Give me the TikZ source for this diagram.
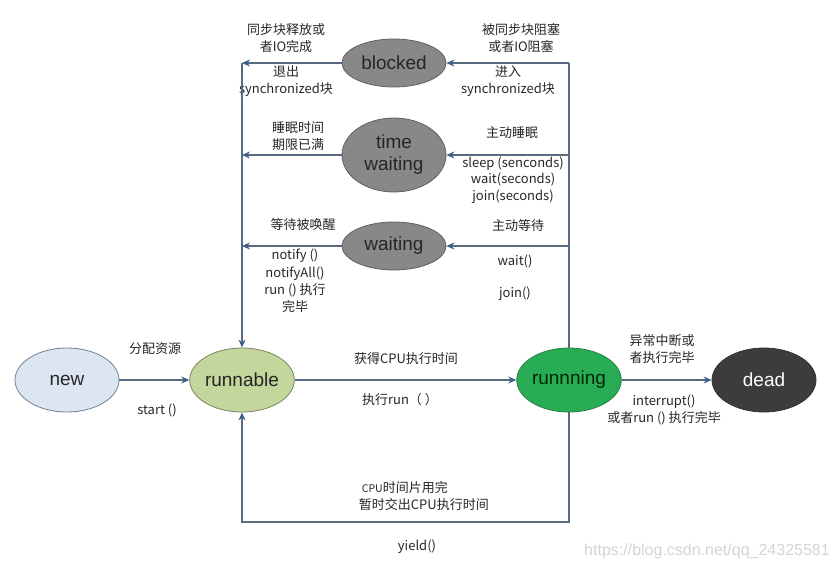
\documentclass[tikz,border=0pt]{standalone}
\usepackage{fontspec}
\setmainfont{Noto Sans CJK SC}
\newfontfamily\statefont{Liberation Sans}
\usetikzlibrary{shapes.geometric,arrows.meta}
\definecolor{linecol}{RGB}{88,106,128}
\definecolor{tipcol}{RGB}{62,96,134}
\definecolor{newfill}{RGB}{220,230,242}
\definecolor{newdraw}{RGB}{112,128,152}
\definecolor{runfill}{RGB}{195,214,155}
\definecolor{rundraw}{RGB}{120,136,96}
\definecolor{goodfill}{RGB}{40,172,84}
\definecolor{gooddraw}{RGB}{36,130,66}
\definecolor{waitfill}{RGB}{136,136,136}
\definecolor{waitdraw}{RGB}{96,96,96}
\definecolor{deadfill}{RGB}{60,60,60}
\definecolor{markcol}{RGB}{212,212,212}
\begin{document}
\begin{tikzpicture}[x=1pt,y=-1pt,>={Stealth[length=8pt,width=7pt,color=tipcol]},line width=1.1pt,
  main node/.style={ellipse,draw,line width=0.8pt,minimum width=104pt,minimum height=64pt,inner sep=0pt,text=black!85,font=\statefont\fontsize{19}{22}\selectfont},
  wait node/.style={main node,fill=waitfill,draw=waitdraw,align=center},
  text node/.style={align=center,text=black!85,font=\fontsize{13}{17}\selectfont},
  link/.style={draw=linecol}]
    \useasboundingbox (0,0) rectangle (834,570);

    \node[main node,fill=newfill,draw=newdraw] (1) at (67,380) {new};
    \node[main node,fill=runfill,draw=rundraw] (2) at (242,380) {runnable};
    \node[main node,fill=goodfill,draw=gooddraw,text=black!85!green] (3) at (569,380) {runnning};
    \node[main node,fill=deadfill,draw=black!80,text=white] (4) at (764,380) {dead};

    \node[wait node,minimum height=48pt] (5) at (394,63) {blocked};
    \node[wait node,minimum height=74pt] (6) at (394,155) {time\\waiting};
    \node[wait node,minimum height=48pt] (7) at (394,246) {waiting};

    \coordinate (8) at (242,63);
    \coordinate (9) at (242,155);
    \coordinate (10) at (242,246);
    \coordinate (11) at (569,63);
    \coordinate (12) at (569,155);
    \coordinate (13) at (569,246);
    \coordinate (14) at (242,522);

    \node[text node] (15) at (286,38) {同步块释放或\\者IO完成};
    \node[text node] (16) at (286,81) {退出\\synchronized块};
    \node[text node] (17) at (521,38) {被同步块阻塞\\或者IO阻塞};
    \node[text node] (18) at (508,81) {进入\\synchronized块};
    \node[text node] (19) at (298,136) {睡眠时间\\期限已满};
    \node[text node] (20) at (512,133) {主动睡眠};
    \node[text node,font=\fontsize{13}{16.5}\selectfont] (21) at (513,180) {sleep (senconds)\\wait(seconds)\\join(seconds)};
    \node[text node] (22) at (303,225) {等待被唤醒};
    \node[text node,font=\fontsize{13}{17.3}\selectfont] (23) at (295,281) {notify ()\\notifyAll()\\run () 执行\\完毕};
    \node[text node] (24) at (518,226) {主动等待};
    \node[text node] (25) at (515,261) {wait()};
    \node[text node] (26) at (515,294) {join()};
    \node[text node] (27) at (155,349) {分配资源};
    \node[text node] (28) at (157,410) {start ()};
    \node[text node] (29) at (406,359) {获得CPU执行时间};
    \node[text node] (30) at (400,400) {执行run（ ）};
    \node[text node] (31) at (662,349) {异常中断或\\者执行完毕};
    \node[text node] (32) at (664,410) {interrupt()\\或者run () 执行完毕};
    \node[text node,align=left,anchor=west] (33) at (355,496) {\hspace{3pt}{\fontsize{10.5}{17}\selectfont CPU}时间片用完\\暂时交出CPU执行时间};
    \node[text node] (34) at (417,547) {yield()};
    \node[text node,text=markcol,font=\statefont\fontsize{16}{18}\selectfont] (35) at (707,551) {https://blog.csdn.net/qq\_24325581};

    \path[link]
    (1) edge[->] (2)
    (2) edge[->] (3)
    (3) edge[->] (4)

    (5) edge[->] (8)
    (6) edge[->] (9)
    (7) edge[->] (10)
    (8) edge[->] (2)

    (11) edge[->] (5)
    (12) edge[->] (6)
    (13) edge[->] (7)
    (3) edge (11)
    ;
    \draw[link,->] (3) |- (14) -- (2);
\end{tikzpicture}
\end{document}
